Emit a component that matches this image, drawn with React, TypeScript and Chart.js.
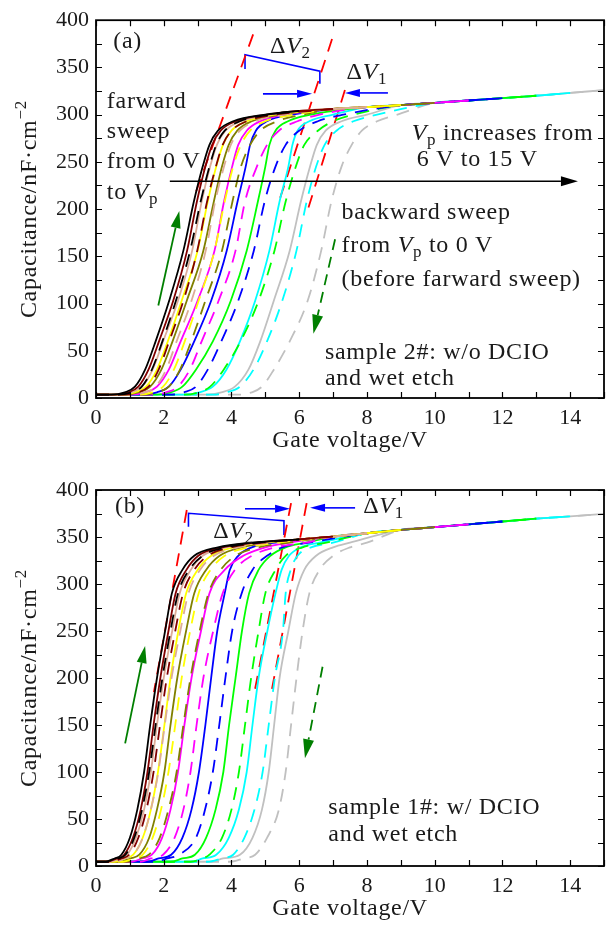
import React, { useEffect, useRef } from 'react';
import { Chart, registerables } from 'chart.js';

Chart.register(...registerables);

// ---------------- data ----------------
// sweep voltage Vp of each curve pair (forward solid / backward dashed)
const VP = [6, 7, 8, 9, 10, 11, 12, 13, 14, 15];
const X_TICKS = [0, 2, 4, 6, 8, 10, 12, 14];
const Y_TICKS = [0, 50, 100, 150, 200, 250, 300, 350, 400];

// common upper branch (accumulation) shared by the curves
const ENV_V = [5, 6, 7, 8, 9, 10, 11, 12, 13, 14, 15];
const ENV_A = [301, 304, 306, 308, 310, 312.5, 315, 317.5, 320, 323, 326];
const ENV_B = [345, 347.5, 350.5, 354, 357.5, 360.5, 363.5, 366.5, 369.5, 372, 374.5];

// panel (a): capacitance levels and gate voltage where each curve reaches them
const LEVELS_A = [3.5, 6, 12, 30, 60, 103, 156, 208, 245, 268, 283, 293, 300];
const FORWARD_A = [
  [0.45, 0.85, 1.15, 1.45, 1.76, 2.16, 2.58, 2.89, 3.15, 3.35, 3.6, 4.05, 5.0],
  [0.55, 0.95, 1.25, 1.55, 1.86, 2.28, 2.69, 2.98, 3.23, 3.43, 3.68, 4.13, 5.05],
  [0.65, 1.05, 1.36, 1.67, 1.98, 2.42, 2.84, 3.12, 3.37, 3.57, 3.82, 4.27, 5.15],
  [0.75, 1.15, 1.48, 1.8, 2.12, 2.53, 3.0, 3.3, 3.55, 3.75, 4.0, 4.45, 5.3],
  [0.85, 1.25, 1.6, 1.93, 2.26, 2.68, 3.17, 3.48, 3.72, 3.92, 4.17, 4.6, 5.45],
  [1.05, 1.45, 1.8, 2.15, 2.5, 3.0, 3.5, 3.78, 4.02, 4.2, 4.45, 4.85, 5.6],
  [1.4, 1.8, 2.15, 2.5, 2.9, 3.4, 3.86, 4.18, 4.42, 4.55, 4.72, 5.05, 5.8],
  [1.8, 2.2, 2.55, 2.95, 3.45, 3.98, 4.45, 4.78, 5.0, 5.12, 5.3, 5.67, 6.35],
  [2.65, 3.05, 3.45, 3.85, 4.25, 4.7, 5.12, 5.42, 5.68, 5.8, 5.95, 6.3, 7.0],
  [3.3, 3.7, 4.1, 4.5, 4.85, 5.25, 5.72, 6.05, 6.32, 6.52, 6.78, 7.25, 8.0],
];
const BACKWARD_A = [
  [0.65, 1.05, 1.35, 1.65, 1.96, 2.36, 2.78, 3.09, 3.35, 3.55, 3.8, 4.25, 5.1],
  [0.85, 1.25, 1.55, 1.85, 2.16, 2.58, 2.99, 3.28, 3.54, 3.74, 4.0, 4.45, 5.3],
  [1.05, 1.45, 1.76, 2.07, 2.38, 2.82, 3.24, 3.52, 3.78, 3.98, 4.25, 4.7, 5.55],
  [1.25, 1.65, 1.98, 2.3, 2.62, 3.03, 3.5, 3.8, 4.05, 4.28, 4.55, 5.0, 5.85],
  [1.4, 1.8, 2.15, 2.48, 2.81, 3.23, 3.72, 4.03, 4.28, 4.55, 4.85, 5.35, 6.1],
  [1.67, 2.07, 2.42, 2.77, 3.12, 3.62, 4.12, 4.4, 4.75, 5.05, 5.4, 5.95, 6.6],
  [2.2, 2.6, 2.95, 3.3, 3.7, 4.2, 4.66, 4.98, 5.3, 5.6, 6.0, 6.55, 7.3],
  [2.62, 3.02, 3.37, 3.77, 4.27, 4.8, 5.27, 5.6, 5.9, 6.15, 6.55, 7.0, 7.6],
  [3.45, 3.85, 4.25, 4.65, 5.05, 5.5, 5.92, 6.22, 6.5, 6.75, 7.1, 7.6, 8.3],
  [4.2, 4.6, 4.9, 5.25, 5.72, 6.25, 6.65, 6.95, 7.25, 7.55, 7.85, 8.3, 8.9],
];

// panel (b)
const LEVELS_B = [4.5, 8, 12, 30, 60, 100, 150, 200, 250, 290, 315, 330, 339, 344];
const FORWARD_B = [
  [0.25, 0.55, 0.75, 1.0, 1.22, 1.42, 1.6, 1.8, 2.04, 2.24, 2.55, 2.9, 3.6, 4.6],
  [0.32, 0.62, 0.83, 1.09, 1.32, 1.52, 1.7, 1.9, 2.14, 2.35, 2.67, 3.02, 3.72, 4.7],
  [0.4, 0.7, 0.92, 1.18, 1.42, 1.62, 1.8, 2.0, 2.25, 2.47, 2.8, 3.15, 3.85, 4.8],
  [0.55, 0.85, 1.1, 1.38, 1.62, 1.83, 2.02, 2.2, 2.43, 2.66, 3.0, 3.4, 4.05, 4.9],
  [0.7, 1.0, 1.28, 1.57, 1.8, 2.02, 2.2, 2.4, 2.66, 2.9, 3.25, 3.65, 4.3, 5.1],
  [1.05, 1.35, 1.65, 1.95, 2.2, 2.42, 2.61, 2.82, 3.1, 3.35, 3.8, 4.35, 5.0, 5.7],
  [1.5, 1.85, 2.22, 2.55, 2.82, 3.04, 3.23, 3.4, 3.58, 3.8, 3.95, 4.2, 4.6, 5.3],
  [2.2, 2.55, 2.92, 3.25, 3.53, 3.76, 3.93, 4.12, 4.31, 4.52, 4.8, 5.15, 5.6, 6.2],
  [2.8, 3.15, 3.55, 3.92, 4.22, 4.45, 4.62, 4.8, 5.06, 5.3, 5.48, 5.7, 6.05, 6.6],
  [3.4, 3.75, 4.25, 4.62, 4.9, 5.1, 5.26, 5.42, 5.68, 5.9, 6.15, 6.5, 7.0, 7.5],
];
const BACKWARD_B = [
  [0.35, 0.65, 0.87, 1.13, 1.36, 1.57, 1.76, 1.96, 2.2, 2.42, 2.75, 3.15, 3.85, 4.8],
  [0.45, 0.75, 0.98, 1.25, 1.49, 1.7, 1.89, 2.09, 2.34, 2.57, 2.9, 3.3, 4.0, 4.95],
  [0.55, 0.85, 1.1, 1.38, 1.62, 1.84, 2.03, 2.23, 2.49, 2.73, 3.07, 3.48, 4.2, 5.1],
  [0.8, 1.1, 1.38, 1.67, 1.92, 2.14, 2.34, 2.53, 2.78, 3.03, 3.38, 3.8, 4.5, 5.4],
  [0.95, 1.25, 1.56, 1.88, 2.14, 2.38, 2.58, 2.79, 3.06, 3.32, 3.68, 4.12, 4.8, 5.7],
  [1.3, 1.62, 1.98, 2.32, 2.58, 2.79, 2.97, 3.17, 3.46, 3.74, 4.1, 4.6, 5.3, 6.2],
  [1.75, 2.1, 2.45, 2.95, 3.22, 3.45, 3.64, 3.82, 4.02, 4.3, 4.62, 5.05, 5.5, 6.3],
  [2.8, 3.15, 3.35, 3.72, 4.0, 4.22, 4.4, 4.58, 4.8, 5.0, 5.3, 5.6, 6.1, 6.8],
  [3.3, 3.7, 4.05, 4.38, 4.68, 4.92, 5.1, 5.28, 5.52, 5.6, 5.75, 5.95, 6.35, 7.0],
  [3.95, 4.35, 4.7, 5.05, 5.4, 5.6, 5.76, 5.92, 6.1, 6.3, 6.6, 7.0, 7.5, 8.0],
];

// red dashed guide lines (gate voltage / capacitance of both ends)
const GUIDE_A_V = [[4.64, 2.92], [6.97, 5.43], [7.35, 6.26]];
const GUIDE_A_C = [[385, 215], [380, 211], [326, 200]];
const GUIDE_B_V = [[2.68, 1.71], [5.76, 4.69], [6.22, 5.19]];
const GUIDE_B_C = [[378.7, 185], [386, 187], [386, 187]];

// blue ΔV2 brackets
const BRACKET_A_V = [4.4, 4.4, 6.61, 6.61];
const BRACKET_A_C = [348.4, 363.5, 346, 332.6];
const BRACKET_B_V = [2.73, 2.73, 5.55, 5.55];
const BRACKET_B_C = [361, 375.2, 367.3, 352.1];

// ---------------- styles ----------------
const CURVE_COLORS = ['#000000', '#800000', '#dcac98', '#ffff00', '#808000', '#ff00ff', '#0000ff', '#00ff00', '#00ffff', '#c0c0c0'];
const FONT = '"Liberation Serif", "Times New Roman", serif';
const TXT = 24;
const SP = 0.7;

type Seg = { t: string; it?: boolean; sub?: boolean; sup?: boolean };

function segFont(s: Seg, size: number) {
  const fs = s.sub || s.sup ? Math.round(size * 0.7) : size;
  return `${s.it ? 'italic ' : ''}${fs}px ${FONT}`;
}
function richWidth(ctx: any, segs: Seg[], size: number, sp: number) {
  ctx.letterSpacing = sp + 'px';
  let w = 0;
  for (const s of segs) {
    ctx.font = segFont(s, size);
    w += ctx.measureText(s.t).width;
  }
  return w;
}
function drawRich(ctx: any, segs: Seg[], x: number, y: number, size: number, color: string, sp: number) {
  ctx.fillStyle = color;
  ctx.textBaseline = 'alphabetic';
  ctx.textAlign = 'left';
  ctx.letterSpacing = sp + 'px';
  let cx = x;
  for (const s of segs) {
    ctx.font = segFont(s, size);
    const dy = s.sub ? size * 0.22 : s.sup ? -size * 0.4 : 0;
    ctx.fillText(s.t, cx, y + dy);
    cx += ctx.measureText(s.t).width;
  }
  ctx.letterSpacing = '0px';
}

function arrow(ctx: any, x1: number, y1: number, x2: number, y2: number, color: string, lw: number, hl: number, hw: number, dash?: number[]) {
  const a = Math.atan2(y2 - y1, x2 - x1);
  const bx = x2 - hl * Math.cos(a);
  const by = y2 - hl * Math.sin(a);
  ctx.strokeStyle = color;
  ctx.lineWidth = lw;
  ctx.setLineDash(dash || []);
  ctx.beginPath();
  ctx.moveTo(x1, y1);
  ctx.lineTo(bx, by);
  ctx.stroke();
  ctx.setLineDash([]);
  ctx.fillStyle = color;
  ctx.beginPath();
  ctx.moveTo(x2, y2);
  ctx.lineTo(bx + hw * Math.sin(a), by - hw * Math.cos(a));
  ctx.lineTo(bx - hw * Math.sin(a), by + hw * Math.cos(a));
  ctx.closePath();
  ctx.fill();
}

function curvePoints(levels: number[], xs: number[], vp: number, env: number[]) {
  const pts = levels.map((c, i) => ({ x: xs[i], y: c }));
  pts.unshift({ x: 0, y: levels[0] });
  const last = xs[xs.length - 1];
  ENV_V.forEach((v, i) => {
    if (v > last + 0.7 && v <= vp) pts.push({ x: v, y: env[i] });
  });
  return pts;
}

const V: Seg = { t: 'V', it: true };
const P_SUB: Seg = { t: 'p', sub: true };

const PANEL_A = {
  height: 463, padTop: 18, xAxisH: 65, xTitleY: 447,
  levels: LEVELS_A, fwd: FORWARD_A, bwd: BACKWARD_A, env: ENV_A,
  guideV: GUIDE_A_V, guideC: GUIDE_A_C, brV: BRACKET_A_V, brC: BRACKET_A_C,
  arrows: [
    { a: [2.18, 229.5], b: [14.23, 229.5], color: '#000000', lw: 1.6, hl: 17, hw: 5 },
    { a: [1.84, 98], b: [2.46, 198], color: '#007f00', lw: 1.8, hl: 17, hw: 5 },
    { a: [7.06, 168], b: [6.42, 68], color: '#007f00', lw: 1.8, hl: 19, hw: 5.5, dash: [11, 7] },
    { a: [4.93, 322], b: [6.38, 322], color: '#0000ff', lw: 1.6, hl: 15, hw: 4 },
    { a: [8.62, 323], b: [7.35, 323], color: '#0000ff', lw: 1.6, hl: 15, hw: 4 },
  ],
  texts: [
    { v: 0.51, c: 370.5, s: [{ t: '(a)' }] },
    { v: 5.14, c: 365.3, s: [{ t: 'Δ' }, V, { t: '2', sub: true }] },
    { v: 7.4, c: 338, s: [{ t: 'Δ' }, V, { t: '1', sub: true }] },
    { v: 0.32, c: 307, s: [{ t: 'farward' }] },
    { v: 0.32, c: 275, s: [{ t: 'sweep' }] },
    { v: 0.32, c: 243.5, s: [{ t: 'from 0 V' }] },
    { v: 0.32, c: 211, s: [{ t: 'to ' }, V, P_SUB] },
    { v: 9.32, c: 273, s: [V, P_SUB, { t: ' increases from' }] },
    { v: 9.47, c: 246, s: [{ t: '6 V to 15 V' }] },
    { v: 7.25, c: 189, s: [{ t: 'backward sweep' }] },
    { v: 7.25, c: 154.7, s: [{ t: 'from ' }, V, P_SUB, { t: ' to 0 V' }] },
    { v: 7.25, c: 119, s: [{ t: '(before farward sweep)' }] },
    { v: 6.76, c: 41, s: [{ t: 'sample 2#: w/o DCIO' }] },
    { v: 6.76, c: 13.7, s: [{ t: 'and wet etch' }] },
  ],
};

const PANEL_B = {
  height: 464, padTop: 27, xAxisH: 61, xTitleY: 452,
  levels: LEVELS_B, fwd: FORWARD_B, bwd: BACKWARD_B, env: ENV_B,
  guideV: GUIDE_B_V, guideC: GUIDE_B_C, brV: BRACKET_B_V, brC: BRACKET_B_C,
  arrows: [
    { a: [0.86, 130.5], b: [1.45, 234], color: '#007f00', lw: 1.8, hl: 17, hw: 5 },
    { a: [6.69, 212], b: [6.17, 114.6], color: '#007f00', lw: 1.8, hl: 19, hw: 5.5, dash: [11, 7] },
    { a: [4.4, 380], b: [5.73, 380], color: '#0000ff', lw: 1.6, hl: 15, hw: 4 },
    { a: [7.65, 381], b: [6.32, 381], color: '#0000ff', lw: 1.6, hl: 15, hw: 4 },
  ],
  texts: [
    { v: 0.56, c: 375.5, s: [{ t: '(b)' }] },
    { v: 3.46, c: 349, s: [{ t: 'Δ' }, V, { t: '2', sub: true }] },
    { v: 7.89, c: 375.5, s: [{ t: 'Δ' }, V, { t: '1', sub: true }] },
    { v: 6.86, c: 55, s: [{ t: 'sample 1#: w/ DCIO' }] },
    { v: 6.86, c: 26.6, s: [{ t: 'and wet etch' }] },
  ],
};

function buildConfig(p: any) {
  const datasets: any[] = [];
  VP.forEach((vp, i) => {
    datasets.push({
      data: curvePoints(p.levels, p.fwd[i], vp, p.env),
      borderColor: CURVE_COLORS[i], borderWidth: 1.8, pointRadius: 0,
      cubicInterpolationMode: 'monotone', fill: false,
    });
    datasets.push({
      data: curvePoints(p.levels, p.bwd[i], vp, p.env),
      borderColor: CURVE_COLORS[i], borderWidth: 1.8, pointRadius: 0, borderDash: [13, 9],
      cubicInterpolationMode: 'monotone', fill: false,
    });
  });
  p.guideV.forEach((vs: number[], k: number) => {
    datasets.push({
      data: vs.map((v, j) => ({ x: v, y: p.guideC[k][j] })),
      borderColor: '#ff0000', borderWidth: 1.8, borderDash: [13, 9], pointRadius: 0, tension: 0, fill: false,
    });
  });
  datasets.push({
    data: p.brV.map((v: number, j: number) => ({ x: v, y: p.brC[j] })),
    borderColor: '#0000ff', borderWidth: 1.6, pointRadius: 0, tension: 0, fill: false,
  });

  const deco = {
    id: 'deco',
    afterDatasetsDraw(chart: any) {
      const { ctx, scales } = chart;
      const xs = scales.x, ys = scales.y;
      ctx.save();
      for (const ar of p.arrows) {
        arrow(ctx, xs.getPixelForValue(ar.a[0]), ys.getPixelForValue(ar.a[1]),
          xs.getPixelForValue(ar.b[0]), ys.getPixelForValue(ar.b[1]), ar.color, ar.lw, ar.hl, ar.hw, ar.dash);
      }
      for (const t of p.texts) {
        drawRich(ctx, t.s, xs.getPixelForValue(t.v), ys.getPixelForValue(t.c), TXT, '#1a1a1a', SP);
      }
      ctx.restore();
    },
    afterDraw(chart: any) {
      const { ctx, chartArea: ca, scales } = chart;
      const xs = scales.x, ys = scales.y;
      ctx.save();
      ctx.strokeStyle = '#000';
      ctx.lineWidth = 1.2;
      ctx.setLineDash([]);
      for (let v = 0; v <= 15; v += 1) {
        const px = Math.round(xs.getPixelForValue(v)) + 0.5;
        ctx.beginPath();
        ctx.moveTo(px, ca.bottom); ctx.lineTo(px, ca.bottom - 6);
        ctx.moveTo(px, ca.top); ctx.lineTo(px, ca.top + 6);
        ctx.stroke();
      }
      for (let c = 0; c <= 400; c += 25) {
        const py = Math.round(ys.getPixelForValue(c)) + 0.5;
        ctx.beginPath();
        ctx.moveTo(ca.left, py); ctx.lineTo(ca.left + 6, py);
        ctx.moveTo(ca.right, py); ctx.lineTo(ca.right - 6, py);
        ctx.stroke();
      }
      ctx.lineWidth = 1.8;
      ctx.strokeRect(ca.left, ca.top, ca.right - ca.left, ca.bottom - ca.top);
      // axis titles
      const xt: Seg[] = [{ t: 'Gate voltage/V' }];
      const w = richWidth(ctx, xt, TXT, SP);
      drawRich(ctx, xt, (ca.left + ca.right) / 2 - w / 2, p.xTitleY, TXT, '#1a1a1a', SP);
      const yt: Seg[] = [{ t: 'Capacitance/nF·cm' }, { t: '−2', sup: true }];
      const wy = richWidth(ctx, yt, TXT, SP);
      ctx.translate(36, (ca.top + ca.bottom) / 2);
      ctx.rotate(-Math.PI / 2);
      drawRich(ctx, yt, -wy / 2, 0, TXT, '#1a1a1a', SP);
      ctx.restore();
    },
  };

  return {
    type: 'line',
    data: { datasets },
    options: {
      responsive: false,
      maintainAspectRatio: false,
      devicePixelRatio: 1,
      animation: false,
      events: [],
      layout: { padding: { left: 0, right: 9, top: p.padTop, bottom: 0 } },
      plugins: { legend: { display: false }, tooltip: { enabled: false }, title: { display: false } },
      scales: {
        x: {
          type: 'linear', min: 0, max: 15,
          grid: { display: false, drawTicks: false }, border: { display: false },
          ticks: { color: '#1a1a1a', font: { family: FONT, size: 22 }, padding: 7, maxRotation: 0, autoSkip: false },
          afterBuildTicks: (s: any) => { s.ticks = X_TICKS.map((v) => ({ value: v })); },
          afterFit: (s: any) => { s.height = p.xAxisH; },
        },
        y: {
          type: 'linear', min: 0, max: 400,
          grid: { display: false, drawTicks: false }, border: { display: false },
          ticks: { color: '#1a1a1a', font: { family: FONT, size: 22 }, padding: 7, autoSkip: false },
          afterBuildTicks: (s: any) => { s.ticks = Y_TICKS.map((v) => ({ value: v })); },
          afterFit: (s: any) => { s.width = 96; },
        },
      },
    },
    plugins: [deco],
  };
}

function Panel({ cfg }: { cfg: any }) {
  const ref = useRef<HTMLCanvasElement>(null);
  useEffect(() => {
    const chart = new Chart(ref.current as HTMLCanvasElement, buildConfig(cfg) as any);
    return () => chart.destroy();
  }, []);
  return <canvas ref={ref} width={613} height={cfg.height} style={{ display: 'block', width: 613, height: cfg.height }} />;
}

export default function App() {
  return (
    <div style={{ position: 'absolute', left: 0, top: 0, width: 613, height: 927, background: '#ffffff' }}>
      <Panel cfg={PANEL_A} />
      <Panel cfg={PANEL_B} />
    </div>
  );
}
